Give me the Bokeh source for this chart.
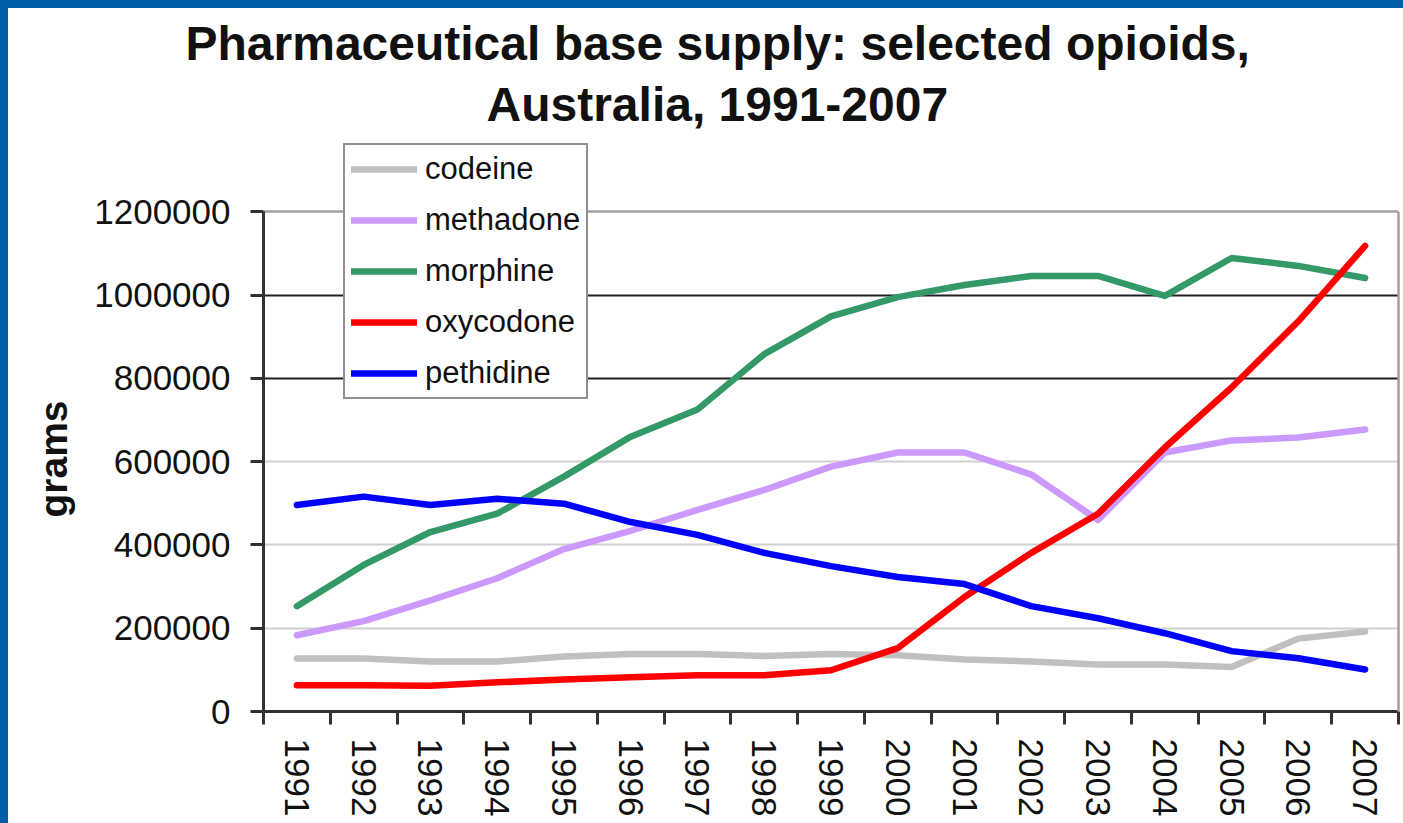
from bokeh.plotting import figure
from bokeh.models import (Range1d, FixedTicker, BasicTickFormatter, Grid, Title,
                          SingleIntervalTicker, LinearAxis)
from bokeh.embed import file_html
from bokeh.resources import INLINE

years = list(range(1991, 2008))
codeine = [127000, 127000, 120000, 120000, 132000, 138000, 138000, 133000, 138000,
           135000, 125000, 120000, 113000, 113000, 107000, 175000, 192000]
methadone = [183000, 217000, 267000, 320000, 390000, 434000, 484000, 532000, 588000,
             622000, 622000, 569000, 460000, 622000, 651000, 658000, 677000]
morphine = [253000, 352000, 431000, 475000, 564000, 660000, 725000, 858000, 949000,
            995000, 1024000, 1046000, 1046000, 998000, 1089000, 1070000, 1041000]
oxycodone = [63000, 63000, 62000, 70000, 77000, 82000, 87000, 87000, 99000,
             152000, 275000, 381000, 475000, 634000, 778000, 937000, 1118000]
pethidine = [496000, 516000, 496000, 511000, 499000, 455000, 424000, 381000, 349000,
             323000, 306000, 253000, 224000, 188000, 145000, 128000, 101000]
series_names = ["codeine", "methadone", "morphine", "oxycodone", "pethidine"]
series_colors = ["#c0c0c0", "#cc99ff", "#339966", "#ff0000", "#0000ff"]
title_lines = ["Pharmaceutical base supply: selected opioids,", "Australia, 1991-2007"]
y_label = "grams"
y_max = 1200000

FONT = "Liberation Sans"

# frame spans page y 132..711; the value axis (0..1 200 000) covers 213..711
FRAME_TOP, AXIS_TOP, AXIS_BOTTOM = 132, 213, 711
y_end = y_max * (AXIS_BOTTOM - FRAME_TOP) / (AXIS_BOTTOM - AXIS_TOP)

p = figure(width=1395, height=815, output_backend="svg", toolbar_location=None,
           title=None,
           x_range=Range1d(years[0] - 0.5, years[-1] + 0.5),
           y_range=Range1d(0, y_end),
           min_border_left=255, min_border_right=5, min_border_top=0,
           min_border_bottom=112)
p.styles = {"background-color": "white"}
p.background_fill_color = "white"
p.border_fill_color = "white"
p.outline_line_color = None

for name, vals, col in zip(series_names, [codeine, methadone, morphine, oxycodone, pethidine],
                           series_colors):
    p.line(years, vals, line_color=col, line_width=6.5, line_join="round",
           line_cap="round", legend_label=name)

# grids
p.xgrid.grid_line_color = None
p.ygrid.grid_line_color = None
light = Grid(dimension=1, ticker=FixedTicker(ticks=[200000, 400000, 600000]),
             grid_line_color="#d0d0d0", grid_line_width=2)
dark = Grid(dimension=1, ticker=FixedTicker(ticks=[800000, 1000000]),
            grid_line_color="#202020", grid_line_width=2)
top = Grid(dimension=1, ticker=FixedTicker(ticks=[y_max]),
           grid_line_color="#a0a0a0", grid_line_width=2.5)
for g in (light, dark, top):
    p.add_layout(g)

# x axis
minor = [y - 0.5 for y in years] + [years[-1] + 0.5]
xa = p.xaxis[0]
xa.ticker = FixedTicker(ticks=years, minor_ticks=minor)
xa.major_tick_line_color = None
xa.major_tick_out = 0
xa.major_tick_in = 0
xa.minor_tick_out = 13
xa.minor_tick_in = 0
xa.minor_tick_line_color = "#333333"
xa.minor_tick_line_width = 3
xa.axis_line_color = "#333333"
xa.axis_line_width = 3
xa.major_label_orientation = "vertical"
xa.major_label_text_font = FONT
xa.major_label_text_font_size = "35px"
xa.major_label_text_color = "#111111"
xa.major_label_standoff = 14

# y axis
ya = p.yaxis[0]
ya.bounds = (0, y_max)
ya.ticker = SingleIntervalTicker(interval=200000)
ya.formatter = BasicTickFormatter(use_scientific=False)
ya.minor_tick_line_color = None
ya.major_tick_out = 13
ya.major_tick_in = 0
ya.major_tick_line_color = "#333333"
ya.major_tick_line_width = 3
ya.axis_line_color = "#333333"
ya.axis_line_width = 3
ya.major_label_text_font = FONT
ya.major_label_text_font_size = "35px"
ya.major_label_text_color = "#111111"
ya.major_label_standoff = 20

# y axis title, centred on the value axis (not on the taller frame)
yt = Title(text=y_label, align="left", offset=194, vertical_align="bottom",
           text_font=FONT, text_font_style="bold", text_font_size="39px",
           text_color="#111111", standoff=34)
p.add_layout(yt, "left")

# right frame border
ra = LinearAxis(bounds=(0, y_max), ticker=FixedTicker(ticks=[]),
                axis_line_color="#a0a0a0", axis_line_width=2.5,
                major_tick_line_color=None, minor_tick_line_color=None,
                major_tick_out=0, major_tick_in=0, minor_tick_out=0, minor_tick_in=0,
                major_label_standoff=0)
p.add_layout(ra, "right")

# title: two lines
t2 = Title(text=title_lines[1], align="left", offset=223, text_font=FONT,
           text_font_style="bold", text_font_size="48px", text_color="#111111",
           standoff=0)
t1 = Title(text=title_lines[0], align="left", offset=-78, text_font=FONT,
           text_font_style="bold", text_font_size="48px", text_color="#111111",
           standoff=12)
p.add_layout(t2, "above")
p.add_layout(t1, "above")

# legend
lg = p.legend[0]
lg.location = (80, 312)
lg.label_text_font = FONT
lg.label_text_font_size = "31px"
lg.label_text_color = "#111111"
lg.glyph_width = 66
lg.glyph_height = 34
lg.label_height = 34
lg.spacing = 15
lg.padding = 6
lg.margin = 0
lg.label_standoff = 8
lg.border_line_color = "#222222"
lg.border_line_width = 2
lg.background_fill_color = "white"
lg.background_fill_alpha = 1.0

style = ("<style>html,body{margin:0 !important;padding:0;}"
         "body{background:#005da8;padding:8px 0 0 8px !important;"
         "box-sizing:border-box;overflow:hidden;}</style>")
html = file_html(p, INLINE).replace("</head>", style + "</head>", 1)
open("out.html", "w").write(html)
